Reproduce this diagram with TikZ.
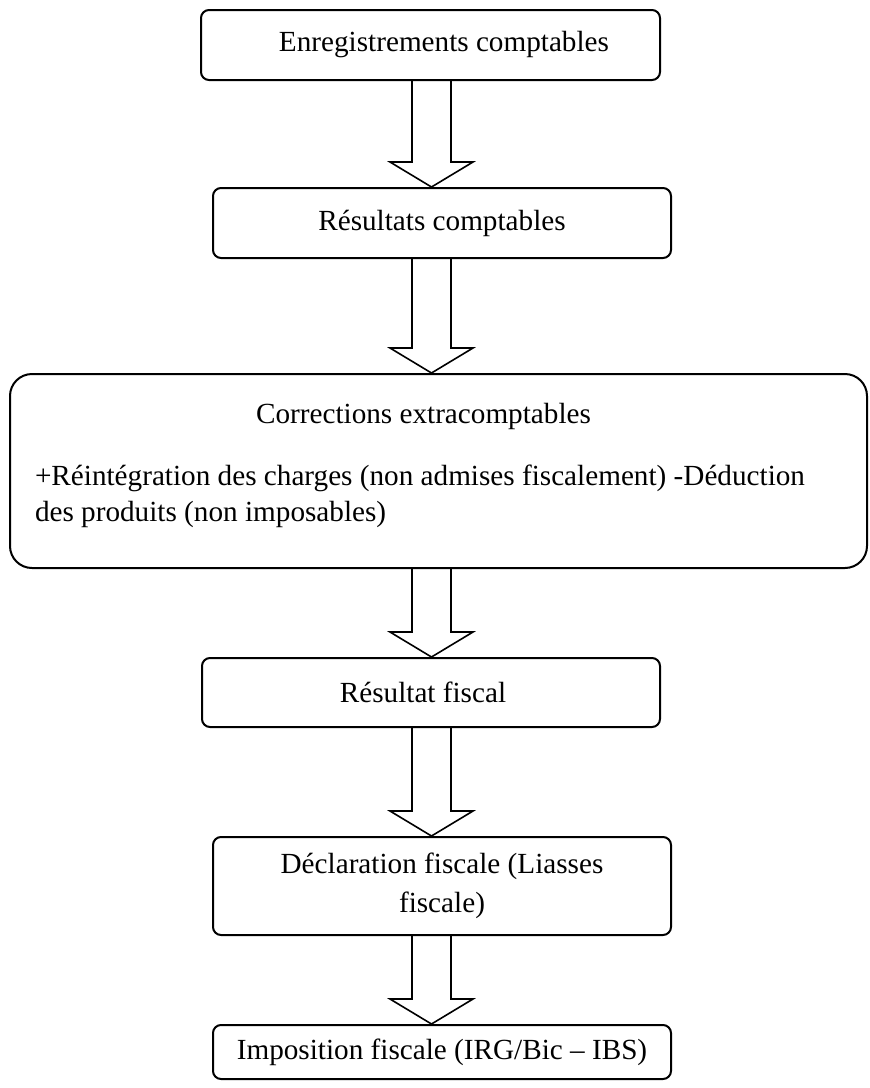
\documentclass[tikz,border=0pt]{standalone}
\usepackage{fontspec}
\setmainfont{Liberation Serif}
\usetikzlibrary{calc}
\newcommand\fatarrow[2]{%
  \draw[arrowline] ($(#1.south -| ax)+(-19.5,0)$) -- ($(#2.north -| ax)+(-19.5,-25)$)
    -- ($(#2.north -| ax)+(-41.5,-25)$) -- (#2.north -| ax)
    -- ($(#2.north -| ax)+(41.5,-25)$) -- ($(#2.north -| ax)+(19.5,-25)$)
    -- ($(#1.south -| ax)+(19.5,0)$);}
\begin{document}
\begin{tikzpicture}[x=0.5pt,y=-0.5pt,
  box/.style={draw, line width=1pt, rounded corners=4pt, inner sep=0pt,
    align=center, font=\fontsize{14.6}{19.5}\selectfont},
  arrowline/.style={line width=0.8pt, line join=miter}]
\useasboundingbox (0,0) rectangle (869,1088);
\coordinate (ax) at (431.5,0);
\node[box, minimum width=229.5pt, minimum height=35pt] (b1) at (430.5,45)
  {\hspace*{13.5pt}Enregistrements comptables};
\node[box, minimum width=229pt, minimum height=35pt] (b2) at (442,223)
  {Résultats comptables};
\node[box, rounded corners=11pt, minimum width=428.5pt, minimum height=97pt,
  text width=403.5pt, align=flush left, font=\fontsize{14.6}{18}\selectfont] (b3) at (438.5,471)
  {\raggedright\makebox[388.5pt]{Corrections extracomptables}\\[13pt]
   +Réintégration des charges (non admises fiscalement) -Déduction\\
   des produits (non imposables)\rule[-9pt]{0pt}{1pt}};
\node[box, minimum width=229pt, minimum height=34.5pt] (b4) at (431,692.5)
  {\hspace*{-8pt}Résultat fiscal};
\node[box, minimum width=229pt, minimum height=49pt] (b5) at (442,886)
  {Déclaration fiscale (Liasses\\fiscale)};
\node[box, minimum width=229pt, minimum height=27pt] (b6) at (442,1052)
  {Imposition fiscale (IRG/Bic – IBS)};
\fatarrow{b1}{b2}
\fatarrow{b2}{b3}
\fatarrow{b3}{b4}
\fatarrow{b4}{b5}
\fatarrow{b5}{b6}
\end{tikzpicture}
\end{document}
